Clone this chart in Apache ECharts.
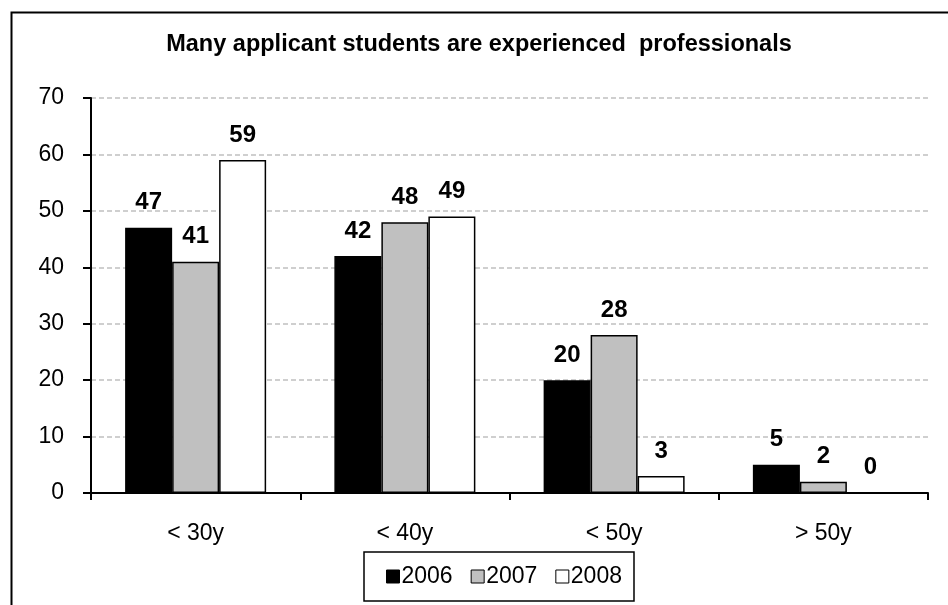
<!DOCTYPE html>
<html>
<head>
<meta charset="utf-8">
<script src="https://cdn.jsdelivr.net/npm/echarts@6/dist/echarts.min.js"></script>
<style>
html,body{margin:0;padding:0;background:#fff;}
#chart{width:948px;height:605px;}
</style>
</head>
<body>
<div id="chart"></div>
<script>
const titleText = "Many applicant students are experienced  professionals";
const categories = ["< 30y", "< 40y", "< 50y", "> 50y"];
const seriesNames = ["2006", "2007", "2008"];
const values2006 = [47, 42, 20, 5];
const values2007 = [41, 48, 28, 2];
const values2008 = [59, 49, 3, 0];
const yTicks = [0, 10, 20, 30, 40, 50, 60, 70];

const FONT = "'Liberation Sans', Arial, sans-serif";
const colors = ["#000000", "#c0c0c0", "#ffffff"];
const allValues = [values2006, values2007, values2008];

const chart = echarts.init(document.getElementById('chart'), null, {renderer: 'canvas'});

const series = seriesNames.map((name, i) => ({
  name: name,
  type: 'bar',
  data: allValues[i],
  barWidth: 47,
  barGap: '0%',
  itemStyle: {color: colors[i], borderColor: '#000', borderWidth: 1.5},
  label: {
    show: true,
    position: 'top',
    distance: 13,
    color: '#000',
    fontFamily: FONT,
    fontWeight: 'bold',
    fontSize: 24
  },
  emphasis: {disabled: true}
}));

chart.setOption({
  animation: false,
  backgroundColor: '#fff',
  textStyle: {fontFamily: FONT},
  title: {
    text: titleText,
    left: 479,
    top: 33,
    textAlign: 'center',
    padding: 0,
    textStyle: {fontFamily: FONT, fontWeight: 'bold', fontSize: 23.5, color: '#000'}
  },
  graphic: [{
    type: 'rect',
    left: 9, top: 10,
    shape: {x: 0, y: 0, width: 1200, height: 1200},
    style: {fill: null, stroke: '#000', lineWidth: 2},
    silent: true
  }],
  legend: {
    data: seriesNames,
    left: 364,
    top: 552,
    padding: [13, 12, 13, 22],
    itemWidth: 13,
    itemHeight: 13,
    itemGap: 18,
    icon: 'rect',
    borderColor: '#000',
    borderWidth: 1.5,
    backgroundColor: '#fff',
    itemStyle: {borderColor: '#000', borderWidth: 1},
    textStyle: {fontFamily: FONT, fontSize: 23, color: '#000', padding: [0, 0, 0, -3]}
  },
  grid: {left: 91, right: 20, top: 98, bottom: 112, containLabel: false},
  xAxis: {
    type: 'category',
    data: categories,
    boundaryGap: true,
    axisLine: {lineStyle: {color: '#000', width: 2}},
    axisTick: {show: true, length: 7, lineStyle: {color: '#000', width: 2}},
    axisLabel: {fontFamily: FONT, fontSize: 23, color: '#000', margin: 29},
    splitLine: {show: false}
  },
  yAxis: {
    type: 'value',
    min: yTicks[0],
    max: yTicks[yTicks.length - 1],
    interval: 10,
    axisLine: {show: true, lineStyle: {color: '#000', width: 2}},
    axisTick: {show: true, length: 8, lineStyle: {color: '#000', width: 2}},
    axisLabel: {fontFamily: FONT, fontSize: 23, color: '#000', margin: 27},
    splitLine: {show: true, lineStyle: {color: '#c0c0c0', width: 1.5, type: [5, 3]}}
  },
  series: series
});
</script>
</body>
</html>
